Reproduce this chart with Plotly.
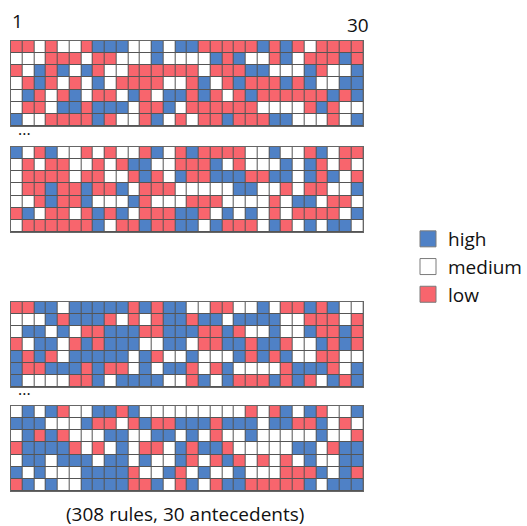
import plotly.graph_objects as go

# H = high, M = medium, L = low ; 30 antecedents per row
block1 = [
    "LLMLMMLHHHMMHMH" + "HLLLLLHLHLMLLLL",
    "MMMLLLMLLMMMHMM" + "MMHLHMMLHMLLLHL",
    "LMHLHMHLMMLLLLL" + "LMLLLHHMMMHLMMH",
    "MLHLMLMHMLLLLMM" + "LHMLHLLLHLHMMHH",
    "MHLMLHMLLMHLMHH" + "LHLMLHLLLLLLHLH",
    "MLLMHHLHHHMLLHM" + "LLLLLLMMMMLHLMM",
    "HMMLLLLHLMMLHML" + "MLLHLLLHHMMMLMH",
]
block2 = [
    "HMLHMMLMLMMLHML" + "HLLLLMMHMMLHMLL",
    "MLMLLMMLMLHHMML" + "LLHMLMMMHMHLMLM",
    "MLLLLMLLMMLHLMH" + "LLHHHLLHHMHLHML",
    "MLLHLLHLLHMLLLM" + "MMMMHHMMLMLLMMH",
    "MMLHLLHMMMHLMMM" + "LLLMMMMLMHHMLLM",
    "LHMLLMLHLHMLLLH" + "HLMHMHMLMLLLLMH",
    "MLLLLLLHMLLHLLH" + "HMHLLLMHLMHMHHM",
]
block3 = [
    "LLHHMHHHHHLHLHH" + "MMLLMMHMLLHLHMM",
    "MMMHLHHHLMLMLHH" + "LHHMHHHHMMLLLML",
    "MHHMHMLLHHHLLHH" + "HLLHLMMHMMHLLHL",
    "LMHHMLHLHHHMMHH" + "MLLHHLHHLMMHLHL",
    "HLHLMHHHHHMHLMM" + "HMMMHLHLHMMLLMM",
    "HLLHHHLHLLMHMHH" + "LMLHMMMMLHHHLMH",
    "HMMMMLLHMHHHHMM" + "LHMHLLLHLHLMHLH",
]
block4 = [
    "MHMHLMMHHLHMMMM" + "MMMMMLMLHMHLMMH",
    "HHHMMMHLLMLHLLH" + "HHLHHHMHHLLHMLM",
    "MHLHLMMMHHMMHHM" + "HMLMMHMMMMMHMML",
    "LHHHHLMLMHMLLMH" + "LHHLMMMMMHHMLHH",
    "MHHMHHHMHHMHMMH" + "LMLHLMLMLMHMMHH",
    "HMHMMMHHHHLMMHL" + "MHMMHMMMLLLHMHL",
    "LHMHMMHHHHLLHML" + "HMLHHLLLLLHMHHH",
]
levels = {"L": 0, "M": 1, "H": 2}
legend_names = ["high", "medium", "low"]
level_colors = {"high": "#4F81C6", "medium": "#FFFFFF", "low": "#F8656D"}
col_labels = ["1", "30"]
caption = "(308 rules, 30 antecedents)"

W, H = 527, 526
FONT = "Open Sans"

def px_x(p):
    return p / W

def px_y(p):
    return 1 - p / H

blocks = [block1, block2, block3, block4]
block_tops = [41, 147, 302, 406]
block_h = 85
x_left, x_right = 11, 374

cs = [[0, level_colors["low"]], [1/3, level_colors["low"]],
      [1/3, level_colors["medium"]], [2/3, level_colors["medium"]],
      [2/3, level_colors["high"]], [1, level_colors["high"]]]

fig = go.Figure()
layout_axes = {}
for i, (blk, top) in enumerate(zip(blocks, block_tops)):
    z = [[levels[c] for c in row] for row in blk]
    n = i + 1
    xa = "x" if n == 1 else f"x{n}"
    ya = "y" if n == 1 else f"y{n}"
    fig.add_trace(go.Heatmap(
        z=z, x=list(range(1, 31)), y=list(range(1, len(blk) + 1)),
        colorscale=cs, zmin=0, zmax=2, showscale=False,
        xgap=1, ygap=1, xaxis=xa, yaxis=ya, hoverinfo="skip"))
    axkw = dict(showline=True, mirror=True, linecolor="#666666", linewidth=1,
                showgrid=False, zeroline=False, showticklabels=False, ticks="")
    layout_axes["xaxis" if n == 1 else f"xaxis{n}"] = dict(
        domain=[px_x(x_left), px_x(x_right)], anchor=ya, range=[0.5, 30.5], **axkw)
    layout_axes["yaxis" if n == 1 else f"yaxis{n}"] = dict(
        domain=[px_y(top + block_h), px_y(top)], anchor=xa,
        range=[len(blk) + 0.5, 0.5], **axkw)

for name in legend_names:
    fig.add_trace(go.Scatter(
        x=[None], y=[None], mode="markers", name=name,
        marker=dict(symbol="square", size=17, color=level_colors[name],
                    line=dict(color="#7a7a7a", width=1))))

annotations = [
    dict(x=px_x(18), y=px_y(21), text=col_labels[0], size=19),
    dict(x=px_x(369), y=px_y(25), text=col_labels[1], size=19),
    dict(x=px_x(25), y=px_y(129), text="...", size=16),
    dict(x=px_x(25), y=px_y(389), text="...", size=16),
    dict(x=px_x(190), y=px_y(514), text=caption, size=19),
]
for a in annotations:
    s = a.pop("size")
    a.update(xref="paper", yref="paper", showarrow=False,
             xanchor="center", yanchor="middle",
             font=dict(family=FONT, size=s, color="#111"))

fig.update_layout(
    width=W, height=H, margin=dict(l=0, r=0, t=0, b=0),
    paper_bgcolor="white", plot_bgcolor="#555555",
    annotations=annotations,
    showlegend=True,
    legend=dict(x=px_x(420), y=px_y(220), xanchor="left", yanchor="top",
                font=dict(family=FONT, size=19, color="#111"),
                bgcolor="rgba(0,0,0,0)", itemwidth=30),
    **layout_axes,
)
fig.write_html(
    "out.html",
    config={"displayModeBar": False},
    post_script="document.body.style.margin='0';document.body.style.overflow='hidden';",
)
